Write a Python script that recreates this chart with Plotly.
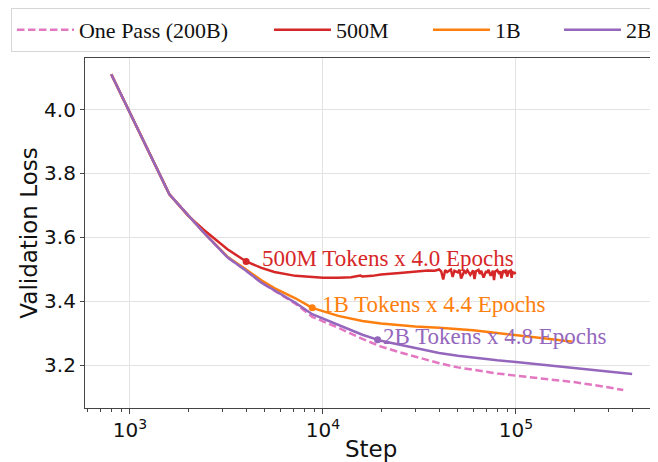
import plotly.graph_objects as go
import math

# ---------------- data ----------------
one_pass_steps = [800, 1600, 2400, 3200, 4000, 4800, 5600, 7200, 8800, 12000, 16000,
                  20000, 25000, 30000, 40000, 50000, 60000, 80000, 100000, 150000, 200000,
                  300000, 360000]
one_pass_loss = [4.110, 3.735, 3.617, 3.538, 3.496, 3.459, 3.434, 3.393, 3.352, 3.318, 3.283,
                 3.259, 3.241, 3.227, 3.207, 3.194, 3.186, 3.175, 3.168, 3.157, 3.148,
                 3.132, 3.123]

m500_steps = [800, 1600, 2000, 2400, 3200, 4000, 4800, 5600, 7200, 8800, 10000, 12000, 14000,
              15600, 16000, 18000, 20000, 25000, 30000, 35000, 38000,
              40000, 41000, 42000, 43000, 44000, 46000, 47000, 48000, 50000, 51000, 52000, 54000,
              55000, 56000, 58000, 60000, 61000, 62000, 64000, 65000, 66000, 68000, 70000, 71000,
              72000, 74000, 76000, 77000, 78000, 80000, 82000, 83000, 84000, 86000, 88000, 89000,
              90000, 92000, 94000, 95000, 96000, 98000, 100000]
m500_loss = [4.110, 3.735, 3.668, 3.625, 3.563, 3.525, 3.505, 3.492, 3.480, 3.476, 3.474, 3.474, 3.476,
             3.481, 3.478, 3.480, 3.484, 3.489, 3.494, 3.497, 3.496,
             3.500, 3.494, 3.469, 3.498, 3.492, 3.500, 3.477, 3.496, 3.491, 3.499, 3.472, 3.495,
             3.490, 3.498, 3.483, 3.497, 3.470, 3.494, 3.499, 3.486, 3.496, 3.475, 3.495, 3.490,
             3.499, 3.480, 3.496, 3.467, 3.493, 3.498, 3.486, 3.495, 3.472, 3.497, 3.491, 3.499,
             3.478, 3.494, 3.497, 3.474, 3.492, 3.488, 3.491]

b1_steps = [800, 1600, 2400, 3200, 4000, 4800, 5600, 7200, 8800, 12000, 16000, 20000,
            30000, 40000, 60000, 80000, 100000, 150000, 197000]
b1_loss = [4.110, 3.735, 3.617, 3.540, 3.500, 3.466, 3.442, 3.410, 3.380, 3.355, 3.339, 3.331,
           3.322, 3.318, 3.310, 3.302, 3.295, 3.283, 3.274]

b2_steps = [800, 1600, 2400, 3200, 4000, 4800, 5600, 7200, 8800, 12000, 16000, 20000,
            25000, 30000, 40000, 50000, 60000, 80000, 100000, 150000, 200000, 300000, 400000]
b2_loss = [4.110, 3.735, 3.617, 3.538, 3.496, 3.459, 3.435, 3.396, 3.360, 3.326, 3.296, 3.277,
           3.264, 3.254, 3.239, 3.230, 3.224, 3.216, 3.211, 3.200, 3.193, 3.182, 3.173]

mark_steps = [4000, 8800, 19200]
mark_loss = [3.525, 3.380, 3.280]
mark_labels = ["500M Tokens x 4.0 Epochs", "1B Tokens x 4.4 Epochs", "2B Tokens x 4.8 Epochs"]

y_tick_vals = [3.2, 3.4, 3.6, 3.8, 4.0]

# ---------------- styles ----------------
PINK, RED, ORANGE, PURPLE = "#e377c2", "#d62728", "#ff7f0e", "#9467bd"
mark_colors = [RED, ORANGE, PURPLE]
SERIF = "Liberation Serif, Times New Roman, serif"
SANS = "DejaVu Sans, sans-serif"

fig = go.Figure()
fig.add_trace(go.Scatter(x=one_pass_steps, y=one_pass_loss, mode="lines", name="One Pass (200B)",
                         line=dict(color=PINK, width=2.5, dash="7.5px,3.5px"), legendwidth=185))
fig.add_trace(go.Scatter(x=m500_steps, y=m500_loss, mode="lines", name="500M",
                         line=dict(color=RED, width=2.5), legendwidth=87))
fig.add_trace(go.Scatter(x=b1_steps, y=b1_loss, mode="lines", name="1B",
                         line=dict(color=ORANGE, width=2.5), legendwidth=59))
fig.add_trace(go.Scatter(x=b2_steps, y=b2_loss, mode="lines", name="2B",
                         line=dict(color=PURPLE, width=2.5), legendwidth=30))
fig.add_trace(go.Scatter(x=mark_steps, y=mark_loss, mode="markers", showlegend=False,
                         marker=dict(color=mark_colors, size=7)))

xshifts = [14, 8, 3]
for s, v, t, c, xs in zip(mark_steps, mark_loss, mark_labels, mark_colors, xshifts):
    fig.add_annotation(x=math.log10(s), y=v, text=t, showarrow=False, xanchor="left",
                       yanchor="middle", xshift=xs, yshift=3,
                       font=dict(family=SERIF, size=23, color=c))

# x-axis title placed as a paper annotation (axis-title standoff is ignored with fixed margins)
fig.add_annotation(x=0.5, y=-0.117, xref="paper", yref="paper", text="Step", showarrow=False,
                   xanchor="center", yanchor="middle",
                   font=dict(family=SANS, size=23, color="#111"))

# page body has an 8px default margin, so the figure is 8px smaller than the window
fig.update_layout(
    width=650, height=454,
    margin=dict(l=77, r=1, t=50, b=54, autoexpand=False),
    paper_bgcolor="white", plot_bgcolor="white",
    showlegend=True,
    legend=dict(orientation="h", x=-0.1294, y=1.1428, xanchor="left", yanchor="top",
                font=dict(family=SERIF, size=22, color="#111"),
                bordercolor="#d6d6d6", borderwidth=1, itemwidth=57,
                bgcolor="white"),
)
fig.update_xaxes(type="log", range=[2.767, 5.731], tickmode="linear", tick0=0, dtick=1,
                 exponentformat="power",
                 showgrid=True, gridcolor="#e3e3e3", gridwidth=1,
                 showline=True, linecolor="#444", linewidth=1.2, mirror=True,
                 ticks="outside", ticklen=5, tickcolor="#444",
                 minor=dict(ticks="outside", ticklen=3, tickcolor="#444", dtick="D1", showgrid=False),
                 tickfont=dict(family=SANS, size=16, color="#111"),
                 zeroline=False)
fig.update_yaxes(range=[3.067, 4.161], tickvals=y_tick_vals, tickformat=".1f",
                 showgrid=True, gridcolor="#e3e3e3", gridwidth=1,
                 showline=True, linecolor="#444", linewidth=1.2, mirror=True,
                 ticks="outside", ticklen=4, tickcolor="#444",
                 tickfont=dict(family=SANS, size=20, color="#111"),
                 title=dict(text="Validation Loss", font=dict(family=SANS, size=23, color="#111"), standoff=0),
                 zeroline=False)

fig.write_html("out.html")
